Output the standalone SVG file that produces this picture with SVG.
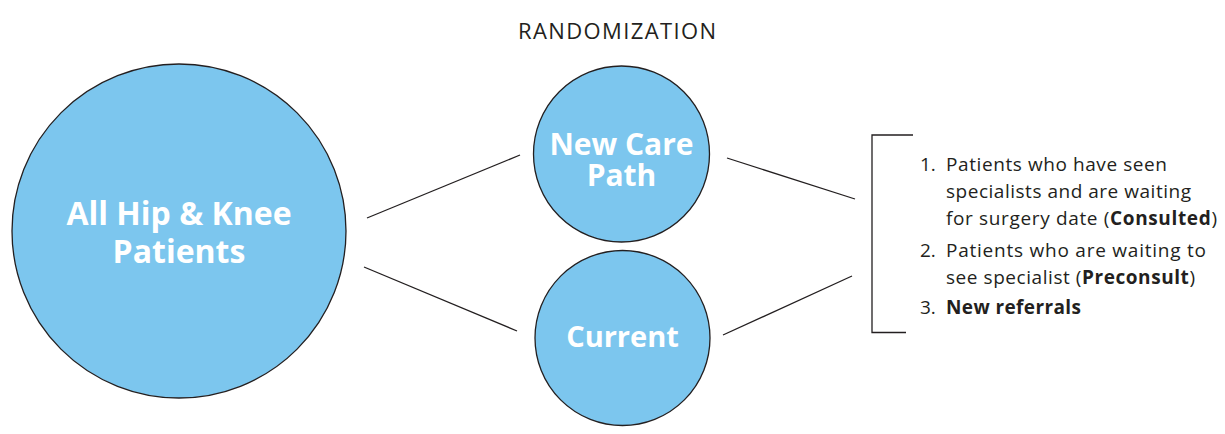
<svg xmlns="http://www.w3.org/2000/svg" width="1225" height="434" viewBox="0 0 1225 434">
  <style>
    .node circle { fill: #7cc6ee; stroke: #231f20; stroke-width: 1.3; }
    .label { font-family: "Open Sans", "Noto Sans", sans-serif; font-weight: 700; fill: #ffffff; text-anchor: middle; }
    .conn line, .conn path { stroke: #231f20; stroke-width: 1.3; fill: none; }
    .title { font-family: "Open Sans", "Noto Sans", sans-serif; font-size: 22px; fill: #231f20; text-anchor: middle; }
    .list { font-family: "Open Sans", "Noto Sans", sans-serif; font-size: 19px; fill: #231f20; }
    .list .b { font-weight: 700; }
  </style>
  <rect width="1225" height="434" fill="#ffffff"/>

  <text class="title" x="617" y="39" textLength="198">RANDOMIZATION</text>

  <g id="all-patients" class="node">
    <circle cx="179" cy="231" r="167"/>
    <text class="label" font-size="32"><tspan x="179" y="225">All Hip &amp; Knee</tspan><tspan x="179" y="263">Patients</tspan></text>
  </g>

  <g id="new-care-path" class="node">
    <circle cx="621.5" cy="154" r="88"/>
    <text class="label" font-size="30"><tspan x="621.5" y="155">New Care</tspan><tspan x="621.5" y="186">Path</tspan></text>
  </g>

  <g id="current" class="node">
    <circle cx="622.5" cy="338" r="87.5"/>
    <text class="label" font-size="29" x="622.5" y="347">Current</text>
  </g>

  <g id="connectors" class="conn">
    <line x1="367" y1="218" x2="520" y2="155"/>
    <line x1="364" y1="267" x2="517" y2="331"/>
    <line x1="727" y1="158" x2="855" y2="199"/>
    <line x1="723" y1="335" x2="852" y2="276"/>
    <path d="M913 135 H872 V332.5 H906"/>
  </g>

  <g id="patient-groups" class="list">
    <text x="920" y="171">1.</text>
    <text x="946" y="171" textLength="221">Patients who have seen</text>
    <text x="946" y="198" textLength="245">specialists and are waiting</text>
    <text x="946" y="225" textLength="271">for surgery date (<tspan class="b">Consulted</tspan>)</text>
    <text x="920" y="257">2.</text>
    <text x="946" y="257" textLength="260">Patients who are waiting to</text>
    <text x="946" y="284" textLength="249">see specialist (<tspan class="b">Preconsult</tspan>)</text>
    <text x="920" y="314">3.</text>
    <text x="946" y="314" class="b" textLength="135">New referrals</text>
  </g>
</svg>
